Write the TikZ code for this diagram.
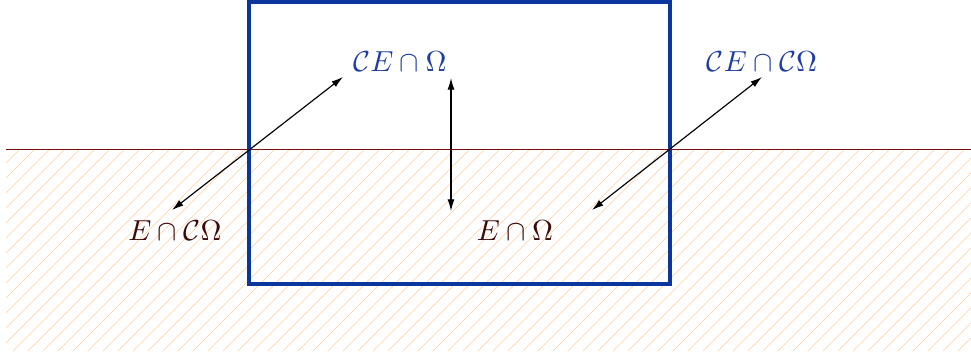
\documentclass[tikz,border=0pt]{standalone}
\usetikzlibrary{arrows.meta}
\definecolor{rectblue}{HTML}{0A369D}
\definecolor{labblue}{HTML}{1F3FA0}
\definecolor{labdark}{HTML}{3D0A0A}
\definecolor{hatch}{HTML}{FFCF9E}
\definecolor{edge}{HTML}{7A1010}
\tikzset{
  lab/.style={inner sep=1pt},
  hatchline/.style={hatch,line width=0.22pt},
  dbl/.style={line width=0.4pt,{Latex[length=4pt,width=2.4pt]}-{Latex[length=4pt,width=2.4pt]}},
}
\begin{document}
\begin{tikzpicture}[x=0.345pt,y=-0.345pt]
\useasboundingbox (0,0) rectangle (971,353);
\begin{scope}
\clip (6,149) rectangle (971,351);
\foreach \k in {0,...,80} {
  \draw[hatchline] ({-197+15*\k},351) -- ({5+15*\k},149);
}
\end{scope}
\draw[edge,line width=0.3pt] (6,149) -- (971,149);
\draw[rectblue,line width=1.4pt] (249,2) rectangle (670,284);
\node[lab,text=labblue] (a) at (400,62) {$\mathcal{C}E\cap\Omega$};
\node[lab,text=labblue] (b) at (762,62) {$\mathcal{C}E\cap\mathcal{C}\Omega$};
\node[lab,text=labdark] (c) at (175,231) {$E\cap\mathcal{C}\Omega$};
\node[lab,text=labdark] (d) at (515,231) {$E\cap\Omega$};
\coordinate (l1) at (172,210);
\coordinate (l2) at (343,77);
\coordinate (m1) at (451,78);
\coordinate (m2) at (451,211);
\coordinate (r1) at (592,210);
\coordinate (r2) at (762,77);
\draw[dbl] (l1) -- (l2);
\draw[dbl] (m1) -- (m2);
\draw[dbl] (r1) -- (r2);
\end{tikzpicture}
\end{document}
